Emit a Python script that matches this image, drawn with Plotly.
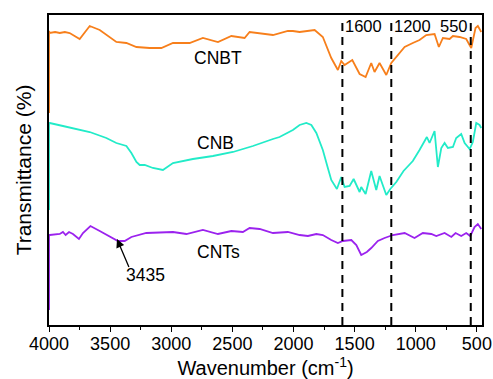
import plotly.graph_objects as go

# Wavenumber (cm^-1) and transmittance (arbitrary offset units)
cnbt_x = [4000, 4000, 3994, 3950, 3912, 3870, 3831, 3749, 3667, 3585, 3449, 3367, 3285, 3177, 3081,
          2986, 2850, 2741, 2618, 2508, 2400, 2359, 2304, 2168, 2046, 2005, 1950, 1827,
          1760, 1691, 1637, 1609, 1582, 1519, 1459, 1410, 1364, 1337, 1296, 1241, 1200,
          1159, 1091, 1024, 969, 914, 846, 811, 778, 723, 696, 642, 587, 546, 511, 492, 464]
cnbt_y = [212, 294, 292, 293, 292, 293, 292, 286, 299, 295, 283, 282, 278, 277, 277,
          282, 282, 287, 283, 289, 287, 293, 292, 290, 294, 294, 293, 295,
          288, 267, 255, 264, 260, 265, 251, 248, 262, 253, 262, 250, 262,
          268, 278, 282, 285, 290, 291, 278, 287, 286, 289, 288, 286, 277, 297, 299, 293]

cnb_x = [4000, 4000, 3994, 3886, 3804, 3667, 3531, 3449, 3367, 3326, 3285, 3258, 3217, 3150, 3068,
         2986, 2823, 2659, 2495, 2332, 2168, 2114, 2005, 1950, 1895, 1854, 1813, 1760,
         1719, 1691, 1645, 1609, 1582, 1541, 1508, 1459, 1446, 1410, 1364, 1323, 1296,
         1269, 1241, 1208, 1159, 1100, 1024, 969, 909, 887, 846, 819, 791, 764, 737,
         696, 669, 628, 600, 559, 533, 505, 478, 464]
cnb_y = [115, 202, 202, 199, 197, 193, 187, 182, 179, 172, 163, 160, 160, 157, 155,
         162, 166, 169, 173, 179, 186, 188, 195, 200, 202, 200, 192, 175,
         157, 145, 136, 148, 138, 139, 146, 133, 138, 131, 154, 135, 149,
         140, 130, 136, 143, 154, 164, 175, 188, 182, 194, 158, 177, 182, 177,
         178, 187, 191, 182, 176, 183, 202, 200, 197]

cnts_x = [4000, 4000, 3994, 3912, 3886, 3864, 3836, 3804, 3755, 3722, 3661, 3585, 3504, 3436, 3381,
          3326, 3204, 2986, 2876, 2741, 2618, 2508, 2414, 2359, 2277, 2168, 2046, 1950,
          1882, 1813, 1760, 1691, 1637, 1596, 1527, 1486, 1446, 1400, 1364, 1310, 1255,
          1187, 1091, 1010, 942, 873, 832, 764, 709, 674, 628, 587, 554, 519, 492, 464]
cnts_y = [15, 90, 90, 91, 93, 90, 93, 91, 86, 92, 99, 94, 89, 84, 84,
          88, 92, 93, 91, 95, 91, 94, 93, 97, 96, 92, 93, 90,
          89, 91, 90, 85, 82, 84, 85, 80, 70, 73, 77, 84, 87,
          90, 92, 87, 92, 91, 89, 92, 88, 92, 89, 92, 89, 98, 101, 96]

marker_x = [1600, 1200, 550]
marker_labels = ["1600", "1200", "550"]

series = [
    ("CNBT", cnbt_x, cnbt_y, "#F77F1B"),
    ("CNB", cnb_x, cnb_y, "#22EBC8"),
    ("CNTs", cnts_x, cnts_y, "#9B22EE"),
]

FONT = "Liberation Sans, Arial, sans-serif"

fig = go.Figure()
for name, xs, ys, col in series:
    fig.add_trace(go.Scatter(x=xs, y=ys, mode="lines", name=name,
                             line=dict(color=col, width=1.8), showlegend=False))

for mx in marker_x:
    fig.add_shape(type="line", xref="x", yref="y", x0=mx, x1=mx, y0=0, y1=303,
                  line=dict(color="black", width=2, dash="8px,6px"))

annotations = []
for mx, lab in zip(marker_x, marker_labels):
    right = lab == "550"
    annotations.append(dict(x=mx, y=299, xref="x", yref="y", text=lab, showarrow=False,
                            xanchor="right" if right else "left", yanchor="middle",
                            xshift=-1 if right else 1,
                            font=dict(size=16.5, color="black", family=FONT)))

labels = [("CNBT", 2620, 267), ("CNB", 2640, 182), ("CNTs", 2612, 73), ("3435", 3207, 50)]
for t, x, y in labels:
    annotations.append(dict(x=x, y=y, xref="x", yref="y", text=t, showarrow=False,
                            font=dict(size=17.5, color="black", family=FONT)))

annotations.append(dict(x=3444, y=86, ax=3343, ay=57, xref="x", yref="y", axref="x", ayref="y",
                        text=" ", font=dict(size=1), borderpad=0, showarrow=True,
                        arrowhead=2, arrowsize=1.3, arrowwidth=1.3, arrowcolor="black"))

fig.update_layout(
    width=493, height=379,
    margin=dict(l=49, r=11, t=15, b=54),
    paper_bgcolor="white", plot_bgcolor="white",
    annotations=annotations,
    font=dict(family=FONT, color="black"),
)
fig.update_xaxes(range=[4000, 458], tick0=500, dtick=500, ticks="outside", ticklen=5,
                 tickwidth=1.3, tickcolor="black", automargin=False, ticklabelstandoff=-3,
                 minor=dict(dtick=250, tick0=250, ticks="outside", ticklen=3, tickcolor="black", tickwidth=1.2),
                 showline=True, linecolor="black", linewidth=1.5, mirror=True,
                 showgrid=False, zeroline=False,
                 tickfont=dict(size=18, family=FONT, color="black"),
                 title=dict(text="Wavenumber (cm<sup>-1</sup>)", standoff=3,
                            font=dict(size=20, family=FONT, color="black")))
fig.update_yaxes(range=[0, 310], showticklabels=False, ticks="", automargin=False,
                 showline=True, linecolor="black", linewidth=1.5, mirror=True,
                 showgrid=False, zeroline=False,
                 title=dict(text="Transmittance (%)", standoff=10,
                            font=dict(size=21, family=FONT, color="black")))

fig.write_html("out.html")
